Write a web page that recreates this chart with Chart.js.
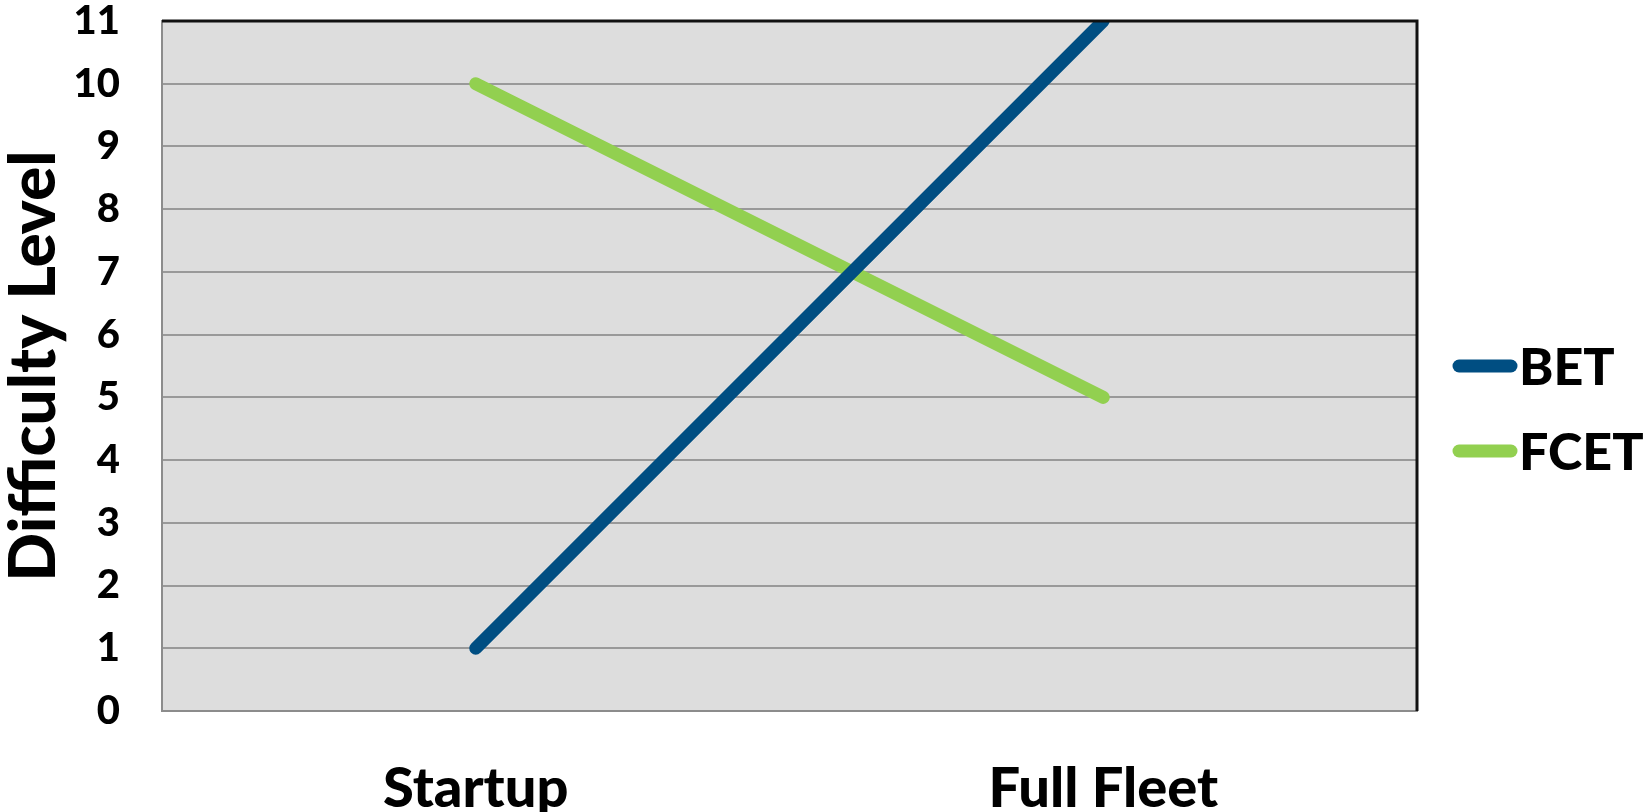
<!DOCTYPE html>
<html>
<head>
<meta charset="utf-8">
<script src="https://cdn.jsdelivr.net/npm/chart.js@4.4.1/dist/chart.umd.min.js"></script>
<style>
  html, body { margin: 0; padding: 0; background: #fff; }
  #wrap { width: 1646px; height: 812px; }
</style>
</head>
<body>
<div id="wrap"><canvas id="chart" width="1646" height="812"></canvas></div>
<script>
const categories = ['Startup', 'Full Fleet'];
const betValues = [1, 11];
const fcetValues = [10, 5];
const seriesNames = ['BET', 'FCET'];
const seriesColors = ['#004E82', '#92D050'];

const FONT = 'Lato, "Open Sans", sans-serif';

// plot background + black top/right frame + hand-drawn legend
const framePlugin = {
  id: 'frame',
  beforeDraw(chart) {
    const { ctx, chartArea: a } = chart;
    ctx.save();
    ctx.fillStyle = '#DDDDDD';
    ctx.fillRect(a.left, a.top, a.right - a.left, a.bottom - a.top);
    ctx.restore();
  },
  afterDraw(chart) {
    const { ctx, chartArea: a } = chart;
    ctx.save();
    ctx.strokeStyle = '#111';
    ctx.lineWidth = 3;
    ctx.beginPath();
    ctx.moveTo(a.left, a.top);
    ctx.lineTo(a.right, a.top);
    ctx.lineTo(a.right, a.bottom);
    ctx.stroke();

    // legend
    ctx.font = '900 52px ' + FONT;
    ctx.textBaseline = 'middle';
    ctx.lineCap = 'round';
    chart.data.datasets.forEach((ds, i) => {
      const y = 366 + i * 85;
      ctx.strokeStyle = ds.borderColor;
      ctx.lineWidth = 13;
      ctx.beginPath();
      ctx.moveTo(1459, y);
      ctx.lineTo(1511, y);
      ctx.stroke();
      ctx.fillStyle = '#000';
      ctx.fillText(ds.label, 1519, y + 2);
    });
    ctx.restore();
  }
};

new Chart(document.getElementById('chart'), {
  type: 'line',
  data: {
    labels: categories,
    datasets: [
      {
        label: seriesNames[0],
        data: betValues,
        borderColor: seriesColors[0],
        backgroundColor: seriesColors[0],
        borderWidth: 13,
        borderCapStyle: 'round',
        pointRadius: 0,
        tension: 0,
      },
      {
        label: seriesNames[1],
        data: fcetValues,
        borderColor: seriesColors[1],
        backgroundColor: seriesColors[1],
        borderWidth: 13,
        borderCapStyle: 'round',
        pointRadius: 0,
        tension: 0,
      },
    ],
  },
  options: {
    responsive: false,
    animation: false,
    devicePixelRatio: 1,
    layout: { padding: { top: 0, right: 229, left: 0, bottom: 0 } },
    plugins: {
      legend: { display: false },
      tooltip: { enabled: false },
    },
    scales: {
      x: {
        offset: true,
        grid: { display: false, drawTicks: false },
        border: { color: '#8C8C8C', width: 2 },
        ticks: {
          color: '#000',
          padding: 44,
          font: { family: FONT, size: 56, weight: '900' },
        },
        afterFit(scale) { scale.height = 101; },
      },
      y: {
        min: 0,
        max: 11,
        grid: { color: '#999999', lineWidth: 2, drawTicks: false },
        border: { color: '#8C8C8C', width: 2 },
        ticks: {
          stepSize: 1,
          color: '#000',
          padding: 42,
          font: { family: FONT, size: 40, weight: '900' },
        },
        title: {
          display: true,
          text: 'Difficulty Level',
          color: '#000',
          padding: { top: 2, bottom: 0 },
          font: { family: FONT, size: 64, weight: '900', lineHeight: 1.0 },
        },
        afterFit(scale) {
          scale.width = 162;
          // tick padding would otherwise push the plot top down
          scale.paddingTop = 21;
          scale.paddingBottom = 0;
        },
      },
    },
  },
  plugins: [framePlugin],
});
</script>
</body>
</html>
